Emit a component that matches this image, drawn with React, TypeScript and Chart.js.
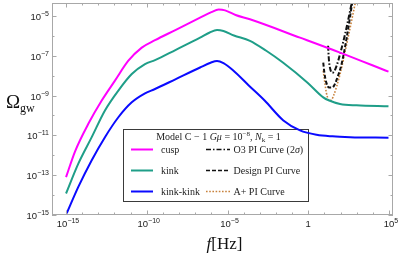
import React, { useEffect, useRef } from "react";
import { Chart, registerables } from "chart.js";

Chart.register(...registerables);

// ---- data (log10 f [Hz], log10 Omega_gw) ----
const cuspLogF = [-15.0, -14.44, -13.62, -12.79, -11.97, -11.14, -10.31, -9.49, -8.2, -6.7, -6.0, -5.55, -5.15, -4.5, -3.61, -0.51, 1.97, 4.97];
const cuspLogOmega = [-13.1, -11.8, -10.42, -9.25, -8.25, -7.25, -6.59, -6.22, -5.7, -5.09, -4.81, -4.68, -4.72, -4.95, -5.17, -6.09, -6.84, -7.8];

const kinkLogF = [-15.0, -14.24, -13.41, -12.59, -11.76, -10.93, -10.11, -9.49, -8.2, -6.7, -6.1, -5.65, -5.25, -4.6, -3.61, -2.6, -1.57, -0.06, 0.93, 1.3, 1.97, 2.99, 4.97];
const kinkLogOmega = [-13.92, -12.42, -11.09, -9.75, -8.75, -7.92, -7.42, -7.22, -6.7, -6.09, -5.83, -5.71, -5.76, -5.98, -6.25, -6.75, -7.34, -8.34, -9.09, -9.25, -9.42, -9.49, -9.54];

const kinkKinkLogF = [-14.96, -14.24, -13.41, -12.59, -11.76, -10.93, -10.11, -9.49, -8.2, -6.7, -6.05, -5.65, -5.25, -4.66, -3.7, -2.7, -1.54, -0.51, 0.52, 1.5, 2.59, 4.97];
const kinkKinkLogOmega = [-14.92, -13.59, -12.25, -11.09, -10.09, -9.34, -8.89, -8.67, -8.17, -7.59, -7.35, -7.26, -7.37, -7.73, -8.48, -9.25, -10.25, -10.75, -10.97, -11.05, -11.09, -11.12];

const o3LogF = [1.23, 1.28, 1.36, 1.47, 1.6, 1.76, 1.97, 2.28, 2.59, 2.75];
const o3LogOmega = [-6.5, -7.2, -7.65, -7.85, -7.8, -7.5, -6.92, -5.92, -4.75, -4.1];

const designLogF = [0.93, 1.0, 1.12, 1.3, 1.45, 1.6, 1.76, 2.07, 2.38, 2.75];
const designLogOmega = [-7.35, -7.85, -8.35, -8.6, -8.6, -8.5, -8.2, -7.4, -6.1, -4.2];

const aPlusLogF = [0.93, 1.02, 1.12, 1.22, 1.32, 1.45, 1.55, 1.97, 2.38, 2.95];
const aPlusLogOmega = [-7.75, -8.3, -8.85, -9.15, -9.27, -9.2, -9.05, -7.92, -6.42, -4.2];

const seriesLabels = ["cusp", "kink", "kink-kink", "O3 PI Curve (2σ)", "Design PI Curve", "A+ PI Curve"];

// axis extents (decade exponents) and ticks
const X_MIN_EXP = -15.87;
const X_MAX_EXP = 5.25;
const Y_MIN_EXP = -15;
const Y_MAX_EXP = -4.35;
const xTickExps = [-15, -14, -13, -12, -11, -10, -9, -8, -7, -6, -5, -4, -3, -2, -1, 0, 1, 2, 3, 4, 5];
const xLabelExps = [-15, -10, -5, 0, 5];
const yTickExps = [-15, -14, -13, -12, -11, -10, -9, -8, -7, -6, -5];
const yLabelExps = [-15, -13, -11, -9, -7, -5];

const SERIF = "'Liberation Serif', 'Times New Roman', serif";
const SANS = "'Liberation Sans', Arial, sans-serif";

function toPoints(lf: number[], lo: number[]) {
  return lf.map((f, i) => ({ x: Math.pow(10, f), y: Math.pow(10, lo[i]) }));
}

function powParts(e: number): [string, string] {
  if (e === 0) return ["1", ""];
  return ["10", e < 0 ? "\u2212" + String(-e) : String(e)];
}

type Seg = { t: string; f: string; dy?: number };

function segWidth(ctx: CanvasRenderingContext2D, segs: Seg[]) {
  let w = 0;
  for (const s of segs) {
    ctx.font = s.f;
    w += ctx.measureText(s.t).width;
  }
  return w;
}

function drawSegs(ctx: CanvasRenderingContext2D, x: number, y: number, segs: Seg[]) {
  let cx = x;
  for (const s of segs) {
    ctx.font = s.f;
    ctx.fillText(s.t, cx, y + (s.dy || 0));
    cx += ctx.measureText(s.t).width;
  }
  return cx;
}

function labelSegs(text: string, size: number): Seg[] {
  const segs: Seg[] = [];
  for (const part of text.split(/(σ)/)) {
    if (!part) continue;
    segs.push({ t: part, f: (part === "σ" ? "italic " : "") + size + "px " + SERIF });
  }
  return segs;
}

const decorPlugin = {
  id: "decor",
  beforeDatasetsDraw(chart: any) {
    const ctx: CanvasRenderingContext2D = chart.ctx;
    const L = 123.5, T = 129.5, R = 308.5, B = 201.5;
    ctx.save();
    ctx.fillStyle = "#ffffff";
    ctx.fillRect(L, T, R - L, B - T);
    ctx.strokeStyle = "#3a3a3a";
    ctx.lineWidth = 1;
    ctx.strokeRect(L, T, R - L, B - T);

    ctx.fillStyle = "#222";
    ctx.textAlign = "left";
    ctx.textBaseline = "alphabetic";
    const f10 = "10px " + SERIF;
    const i10 = "italic 10px " + SERIF;
    const f7 = "7px " + SERIF;
    const title: Seg[] = [
      { t: "Model C \u2212 1 ", f: f10 },
      { t: "G\u03bc", f: i10 },
      { t: " = 10", f: f10 },
      { t: "\u22128", f: f7, dy: -4 },
      { t: ", ", f: f10 },
      { t: "N", f: i10 },
      { t: "k", f: f7, dy: 2 },
      { t: " = 1", f: f10 },
    ];
    const tw = segWidth(ctx, title);
    drawSegs(ctx, 218.5 - tw / 2, 139.5, title);

    const rowY = [149.5, 170.5, 191.5];
    const ds = chart.data.datasets;
    for (let i = 0; i < 6; i++) {
      const d = ds[i];
      const col = i < 3 ? 0 : 1;
      const r = i % 3;
      const x0 = col === 0 ? 131 : 206;
      const x1 = col === 0 ? 153 : 230;
      const tx = col === 0 ? 161 : 233.5;
      ctx.save();
      ctx.strokeStyle = d.borderColor;
      ctx.lineWidth = col === 0 ? 2 : 1.4;
      ctx.setLineDash(d.borderDash || []);
      ctx.beginPath();
      ctx.moveTo(x0, rowY[r]);
      ctx.lineTo(x1, rowY[r]);
      ctx.stroke();
      ctx.restore();
      ctx.fillStyle = "#222";
      drawSegs(ctx, tx, rowY[r] + 3, labelSegs(d.label, 10));
    }
    ctx.restore();
  },
  afterDatasetsDraw(chart: any) {
    const ctx: CanvasRenderingContext2D = chart.ctx;
    const { left, right, top, bottom } = chart.chartArea;
    const xs = chart.scales.x;
    const ys = chart.scales.y;
    ctx.save();
    // frame
    ctx.strokeStyle = "#a8a8a8";
    ctx.lineWidth = 1;
    ctx.strokeRect(left + 0.5, top + 0.5, right - left - 1, bottom - top - 1);
    // inward ticks
    ctx.beginPath();
    for (const e of xTickExps) {
      const px = Math.round(xs.getPixelForValue(Math.pow(10, e))) + 0.5;
      const len = xLabelExps.includes(e) ? 4.5 : 2.5;
      ctx.moveTo(px, bottom);
      ctx.lineTo(px, bottom - len);
      ctx.moveTo(px, top);
      ctx.lineTo(px, top + len);
    }
    for (const e of yTickExps) {
      const py = Math.round(ys.getPixelForValue(Math.pow(10, e))) + 0.5;
      const len = yLabelExps.includes(e) ? 4.5 : 2.5;
      ctx.moveTo(left, py);
      ctx.lineTo(left + len, py);
      ctx.moveTo(right, py);
      ctx.lineTo(right - len, py);
    }
    ctx.stroke();

    // tick labels
    ctx.fillStyle = "#222";
    ctx.textBaseline = "alphabetic";
    ctx.textAlign = "left";
    const bf = "9.5px " + SANS;
    const ef = "7px " + SANS;
    for (const e of xLabelExps) {
      const [b, ex] = powParts(e);
      const segs: Seg[] = [{ t: b, f: bf }];
      if (ex) segs.push({ t: ex, f: ef, dy: -4 });
      const w = segWidth(ctx, segs);
      const px = xs.getPixelForValue(Math.pow(10, e));
      drawSegs(ctx, px - w / 2 + (ex ? 2 : 0), 227, segs);
    }
    for (const e of yLabelExps) {
      const [b, ex] = powParts(e);
      const segs: Seg[] = [{ t: b, f: bf }];
      if (ex) segs.push({ t: ex, f: ef, dy: -4 });
      const w = segWidth(ctx, segs);
      const py = ys.getPixelForValue(Math.pow(10, e));
      drawSegs(ctx, 49 - w, py + 4, segs);
    }

    // axis titles
    ctx.fillStyle = "#111";
    ctx.font = "19px " + SERIF;
    ctx.fillText("\u03a9", 6, 108);
    const ow = ctx.measureText("\u03a9").width;
    ctx.font = "12px " + SERIF;
    ctx.fillText("gw", 6 + ow, 112);

    const xt: Seg[] = [
      { t: "f", f: "italic 17px " + SERIF },
      { t: "[Hz]", f: "17px " + SERIF },
    ];
    const xw = segWidth(ctx, xt);
    drawSegs(ctx, (left + right) / 2 + 2 - xw / 2, 249, xt);
    ctx.restore();
  },
};

export default function App() {
  const ref = useRef<HTMLCanvasElement | null>(null);
  useEffect(() => {
    if (!ref.current) return;
    const common = { pointRadius: 0, fill: false, cubicInterpolationMode: "monotone" as const };
    const chart = new Chart(ref.current, {
      type: "line",
      data: {
        datasets: [
          { ...common, label: seriesLabels[0], data: toPoints(cuspLogF, cuspLogOmega), borderColor: "#ff00ff", borderWidth: 2 },
          { ...common, label: seriesLabels[1], data: toPoints(kinkLogF, kinkLogOmega), borderColor: "#1f9e88", borderWidth: 2 },
          { ...common, label: seriesLabels[2], data: toPoints(kinkKinkLogF, kinkKinkLogOmega), borderColor: "#0a0aff", borderWidth: 2 },
          { ...common, label: seriesLabels[3], data: toPoints(o3LogF, o3LogOmega), borderColor: "#111111", borderWidth: 2, borderDash: [5, 2, 1.5, 2] },
          { ...common, label: seriesLabels[4], data: toPoints(designLogF, designLogOmega), borderColor: "#111111", borderWidth: 2, borderDash: [4, 2] },
          { ...common, label: seriesLabels[5], data: toPoints(aPlusLogF, aPlusLogOmega), borderColor: "#c8823c", borderWidth: 1.6, borderDash: [1.6, 1.6] },
        ] as any,
      },
      options: {
        animation: false,
        responsive: false,
        parsing: false as any,
        layout: { padding: { top: 3, right: 6, left: 0, bottom: 0 } },
        plugins: { legend: { display: false }, tooltip: { enabled: false } },
        scales: {
          x: {
            type: "logarithmic",
            min: Math.pow(10, X_MIN_EXP),
            max: Math.pow(10, X_MAX_EXP),
            ticks: { display: false },
            grid: { display: false, drawTicks: false },
            border: { display: false },
            afterBuildTicks: (s: any) => {
              s.ticks = xTickExps.map((e) => ({ value: Math.pow(10, e) }));
            },
            afterFit: (s: any) => {
              s.height = 42;
            },
          },
          y: {
            type: "logarithmic",
            min: Math.pow(10, Y_MIN_EXP),
            max: Math.pow(10, Y_MAX_EXP),
            ticks: { display: false },
            grid: { display: false, drawTicks: false },
            border: { display: false },
            afterBuildTicks: (s: any) => {
              s.ticks = yTickExps.map((e) => ({ value: Math.pow(10, e) }));
            },
            afterFit: (s: any) => {
              s.width = 52;
            },
          },
        },
      } as any,
      plugins: [decorPlugin],
    });
    return () => chart.destroy();
  }, []);
  return (
    <div style={{ position: "absolute", left: 0, top: 0, width: 399, height: 257, background: "#fff" }}>
      <canvas ref={ref} width={399} height={257} />
    </div>
  );
}
